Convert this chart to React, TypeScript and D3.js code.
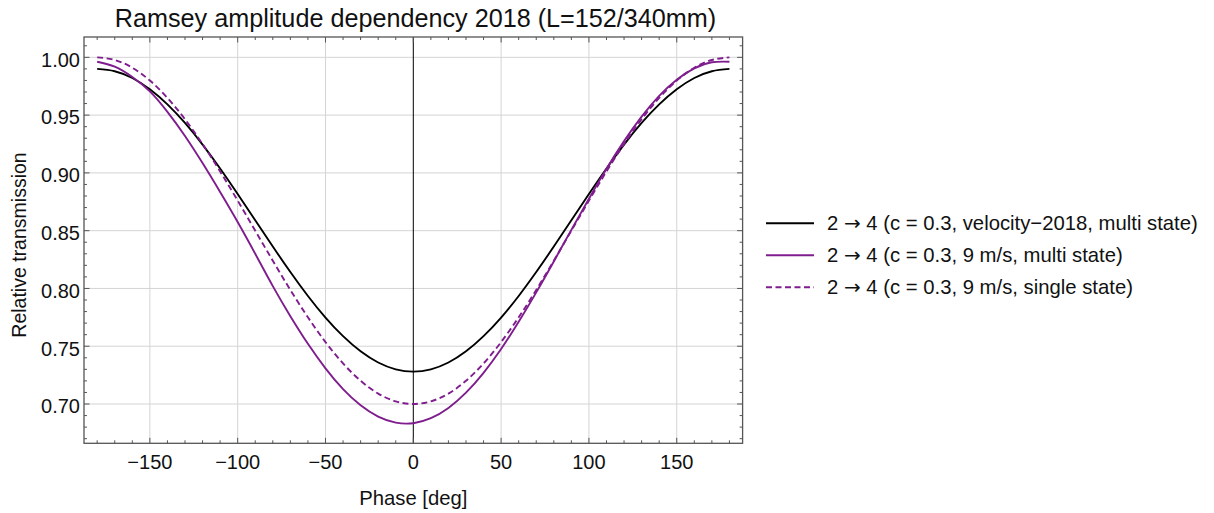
import React from "react";
import * as d3 from "d3";

const phases = [-180,-170,-160,-150,-140,-130,-120,-110,-100,-90,-80,-70,-60,-50,-40,-30,-20,-10,0,10,20,30,40,50,60,70,80,90,100,110,120,130,140,150,160,170,180];
const blackVelocity2018 = [0.990,0.988,0.9821,0.9724,0.9593,0.9432,0.9245,0.9038,0.8817,0.859,0.8363,0.8142,0.7935,0.7748,0.7587,0.7456,0.7359,0.730,0.728,0.730,0.7359,0.7456,0.7587,0.7748,0.7935,0.8142,0.8363,0.859,0.8817,0.9038,0.9245,0.9432,0.9593,0.9724,0.9821,0.988,0.990];
const purpleMulti = [0.9962,0.9919,0.983,0.9705,0.9528,0.932,0.9085,0.8835,0.8575,0.830,0.802,0.776,0.7521,0.7309,0.7129,0.6989,0.6891,0.6839,0.6834,0.6877,0.6966,0.7098,0.727,0.7476,0.7711,0.7966,0.8234,0.8507,0.8777,0.9036,0.9275,0.9487,0.9667,0.9807,0.9905,0.9957,0.9962];
const purpleSingle = [1.000,0.9977,0.991,0.9799,0.9649,0.9464,0.925,0.9013,0.876,0.85,0.824,0.7987,0.775,0.7536,0.7351,0.7201,0.709,0.7023,0.700,0.7023,0.709,0.7201,0.7351,0.7536,0.775,0.7987,0.824,0.85,0.876,0.9013,0.925,0.9464,0.9649,0.9799,0.991,0.9977,1.000];

const xTickValues = [-150,-100,-50,0,50,100,150];
const xTickLabels = ["\u2212150","\u2212100","\u221250","0","50","100","150"];
const yTickValues = [0.70,0.75,0.80,0.85,0.90,0.95,1.00];
const yTickLabels = ["0.70","0.75","0.80","0.85","0.90","0.95","1.00"];
const legendPrefix = "2 ";
const legendArrow = "\u2192";
const legendLabels = [
  " 4 (c = 0.3, velocity\u22122018, multi state)",
  " 4 (c = 0.3, 9 m/s, multi state)",
  " 4 (c = 0.3, 9 m/s, single state)",
];
const title = "Ramsey amplitude dependency 2018 (L=152/340mm)";

const FONT = "'Liberation Sans', Arial, Helvetica, sans-serif";
const PURPLE = "#7f1d8e";

export default function App() {
  const W = 1214, H = 513;
  const left = 84, right = 742.6, top = 37, bottom = 443.3;
  const x = d3.scaleLinear().domain([-187.5, 187.5]).range([left, right]);
  const y = d3.scaleLinear().domain([0.666, 1.0176]).range([bottom, top]);

  const line = (vals: number[]) =>
    d3.line<number>().x((_, i) => x(phases[i])).y((v) => y(v)).curve(d3.curveNatural)(vals) || "";

  const series = [
    { vals: blackVelocity2018, color: "#000", dash: undefined as string | undefined },
    { vals: purpleMulti, color: PURPLE, dash: undefined },
    { vals: purpleSingle, color: PURPLE, dash: "6,3.5" },
  ];

  const xMinor = d3.range(-180, 181, 10);
  const yMinor = d3.range(67, 102, 1).map((v) => v / 100);
  const frameColor = "#555";
  const gridColor = "#d4d4d4";

  return (
    <svg width={W} height={H} style={{ position: "absolute", left: 0, top: 0, background: "#fff" }} fontFamily={FONT}>
      <rect x={0} y={0} width={W} height={H} fill="#fff" />
      <text x={415.5} y={27.3} textAnchor="middle" fontSize={25.2} fill="#111">{title}</text>
      {xTickValues.filter((v) => v !== 0).map((v) => (
        <line key={"gx" + v} x1={x(v)} x2={x(v)} y1={top} y2={bottom} stroke={gridColor} strokeWidth={1} />
      ))}
      {yTickValues.map((v) => (
        <line key={"gy" + v} x1={left} x2={right} y1={y(v)} y2={y(v)} stroke={gridColor} strokeWidth={1} />
      ))}
      <line x1={x(0)} x2={x(0)} y1={top} y2={bottom} stroke="#000" strokeWidth={1} />
      <defs>
        <clipPath id="clip"><rect x={left} y={top} width={right - left} height={bottom - top} /></clipPath>
      </defs>
      <g clipPath="url(#clip)">
        {series.map((s, i) => (
          <path key={i} d={line(s.vals)} fill="none" stroke={s.color} strokeWidth={1.9} strokeDasharray={s.dash} />
        ))}
      </g>
      <rect x={left} y={top} width={right - left} height={bottom - top} fill="none" stroke={frameColor} strokeWidth={1.3} />
      {xMinor.map((v) => {
        const major = v % 50 === 0;
        const len = major ? 5.5 : 3;
        return (
          <g key={"xt" + v}>
            <line x1={x(v)} x2={x(v)} y1={bottom} y2={bottom - len} stroke={frameColor} strokeWidth={1} />
            <line x1={x(v)} x2={x(v)} y1={top} y2={top + len} stroke={frameColor} strokeWidth={1} />
          </g>
        );
      })}
      {yMinor.map((v) => {
        const major = Math.round(v * 100) % 5 === 0;
        const len = major ? 5.5 : 3;
        return (
          <g key={"yt" + v}>
            <line x1={left} x2={left + len} y1={y(v)} y2={y(v)} stroke={frameColor} strokeWidth={1} />
            <line x1={right} x2={right - len} y1={y(v)} y2={y(v)} stroke={frameColor} strokeWidth={1} />
          </g>
        );
      })}
      {xTickValues.map((v, i) => (
        <text key={"xl" + v} x={x(v)} y={469.3} textAnchor="middle" fontSize={20} fill="#111">{xTickLabels[i]}</text>
      ))}
      {yTickValues.map((v, i) => (
        <text key={"yl" + v} x={80} y={y(v) + 9.3} textAnchor="end" fontSize={20} fill="#111">{yTickLabels[i]}</text>
      ))}
      <text x={413.3} y={505} textAnchor="middle" fontSize={20.3} fill="#111">Phase [deg]</text>
      <text transform={`translate(25.5,245) rotate(-90)`} textAnchor="middle" fontSize={19.5} fill="#111">Relative transmission</text>
      {series.map((s, i) => {
        const ly = 223.3 + i * 32;
        return (
          <g key={"lg" + i}>
            <line x1={766} x2={814} y1={ly} y2={ly} stroke={s.color} strokeWidth={1.9} strokeDasharray={s.dash} />
            <text x={827} y={ly + 7} fontSize={20.3} fill="#111">
              {legendPrefix}
              <tspan fontFamily="'DejaVu Sans', sans-serif" fontSize={20}>{legendArrow}</tspan>
              {legendLabels[i]}
            </text>
          </g>
        );
      })}
    </svg>
  );
}
